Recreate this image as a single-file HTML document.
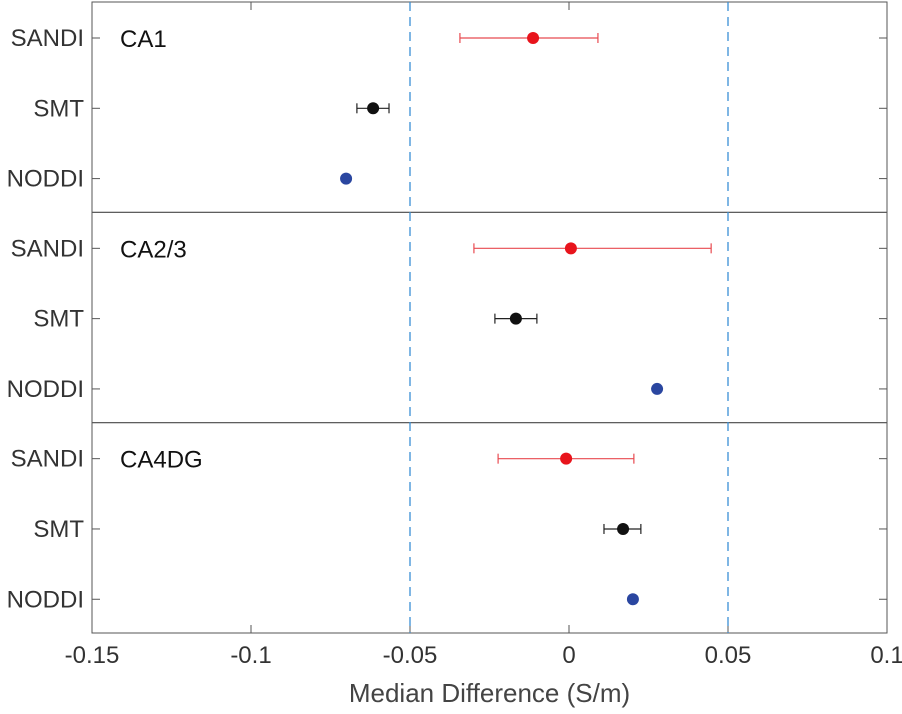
<!DOCTYPE html>
<html><head><meta charset="utf-8"><style>
html,body{margin:0;padding:0;background:#fff;}
svg{display:block;font-family:"Liberation Sans",Arial,sans-serif;}
</style></head><body>
<svg id="chart" width="902" height="714" viewBox="0 0 902 714"></svg>
<script>
const panels = ["CA1", "CA2/3", "CA4DG"];
const methods = ["SANDI", "SMT", "NODDI"];
const medians = [[-0.0113, -0.0616, -0.0701], [0.0006, -0.0167, 0.0277], [-0.0009, 0.0170, 0.0201]];
const lowers = [[-0.0343, -0.0667, null], [-0.0299, -0.0233, null], [-0.0223, 0.0110, null]];
const uppers = [[0.0091, -0.0566, null], [0.0447, -0.0101, null], [0.0204, 0.0226, null]];
const xTicks = [-0.15, -0.1, -0.05, 0, 0.05, 0.1];
const xTickLabels = ["-0.15", "-0.1", "-0.05", "0", "0.05", "0.1"];
const refLines = [-0.05, 0.05];
const colors = ["#e8141c", "#111111", "#2a46a0"];
const errColors = ["#e84a50", "#222222", "#2a46a0"];

const NS = "http://www.w3.org/2000/svg";
const svg = document.getElementById("chart");
const L = 92, R = 887, T = 2, B = 633;
const panelH = (B - T) / panels.length;
const xs = v => L + (v - (-0.15)) / 0.25 * (R - L);
const ys = (p, m) => T + p * panelH + 36 + m * 70.3;
function el(tag, attrs, parent) {
  const e = document.createElementNS(NS, tag);
  for (const k in attrs) e.setAttribute(k, attrs[k]);
  (parent || svg).appendChild(e);
  return e;
}
panels.forEach((name, p) => {
  const g = el("g", {});
  
  
  const y0 = T + p * panelH;
  const r = el("rect", {x: L, y: y0, width: R - L, height: panelH, fill: "none", stroke: "#555", "stroke-width": 1}, g);
  
  
  const t = el("text", {x: 120, y: y0 + 45, "font-size": 24, fill: "#111"}, g);
  t.textContent = name;
  
  
  methods.forEach((m, i) => {
    const y = ys(p, i);
    el("line", {x1: L, x2: L + 8, y1: y, y2: y, stroke: "#555"}, g);
    el("line", {x1: R - 8, x2: R, y1: y, y2: y, stroke: "#555"}, g);
    const lt = el("text", {x: L - 8, y: y + 8, "font-size": 24, fill: "#333", "text-anchor": "end"}, g);
    lt.textContent = m;
    
    
  });
});
xTicks.forEach((v, i) => {
  const x = xs(v);
  el("line", {x1: x, x2: x, y1: B, y2: B - 8, stroke: "#555"});
  el("line", {x1: x, x2: x, y1: T, y2: T + 8, stroke: "#555"});
  const t = el("text", {x: x, y: B + 30, "font-size": 24, fill: "#333", "text-anchor": "middle"});
  t.textContent = xTickLabels[i];
  
  
});
refLines.forEach(v => {
  const l = el("line", {x1: xs(v), x2: xs(v), y1: T, y2: B, stroke: "#3a8fd6", "stroke-width": 1.3, "stroke-dasharray": "9,6"});
  
  
});
panels.forEach((name, p) => {
  methods.forEach((m, i) => {
    const y = ys(p, i);
    if (lowers[p][i] !== null) {
      const g = el("g", {stroke: errColors[i], "stroke-width": 1.2});
      
      
      const a = xs(lowers[p][i]), b = xs(uppers[p][i]);
      el("line", {x1: a, x2: b, y1: y, y2: y}, g);
      el("line", {x1: a, x2: a, y1: y - 5, y2: y + 5}, g);
      el("line", {x1: b, x2: b, y1: y - 5, y2: y + 5}, g);
    }
    const c = el("circle", {cx: xs(medians[p][i]), cy: y, r: 6, fill: colors[i]});
    
    
  });
});
const xt = el("text", {x: (L + R) / 2, y: 702, "font-size": 26, fill: "#444", "text-anchor": "middle"});
xt.textContent = "Median Difference (S/m)";


</script>
</body></html>
